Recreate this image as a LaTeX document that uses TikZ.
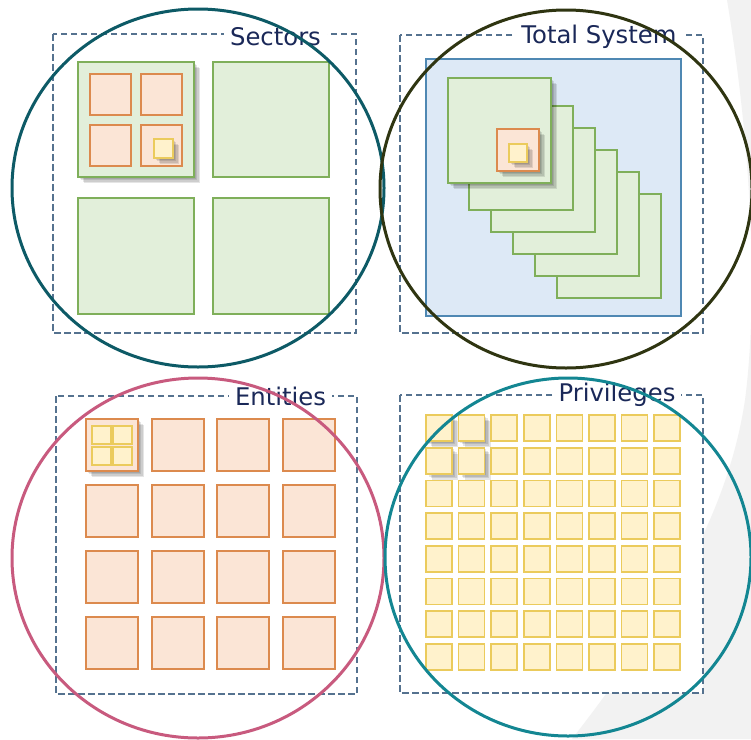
\documentclass[tikz,border=0pt]{standalone}
\usepackage{fontspec}
\setmainfont{DejaVu Sans}
\definecolor{grnF}{HTML}{E2EFDA}
\definecolor{grnD}{HTML}{7FAF5A}
\definecolor{orF}{HTML}{FBE5D6}
\definecolor{orD}{HTML}{DC8A4E}
\definecolor{yeF}{HTML}{FFF2CC}
\definecolor{yeD}{HTML}{EBCB5C}
\definecolor{blF}{HTML}{DDE9F6}
\definecolor{blD}{HTML}{4F88B3}
\definecolor{dashC}{HTML}{55728F}
\definecolor{txtC}{HTML}{1A2858}
\definecolor{cSec}{HTML}{0D5A66}
\definecolor{cTot}{HTML}{2F3511}
\definecolor{cEnt}{HTML}{C85A7E}
\definecolor{cPriv}{HTML}{138692}
\definecolor{bgG}{HTML}{F2F2F2}
\newcommand\boxshadow[4]{%
  \foreach \o in {1.5,3,4.5,6}{\fill[shadowfill] ({#1+\o},{#2+\o}) rectangle ({#3+\o},{#4+\o});}}
\begin{document}
\begin{tikzpicture}[x=1pt,y=-1pt,
  grnbox/.style={fill=grnF, draw=grnD, line width=2pt},
  orbox/.style={fill=orF, draw=orD, line width=2pt},
  yebox/.style={fill=yeF, draw=yeD, line width=1.6pt},
  bluebox/.style={fill=blF, draw=blD, line width=1.6pt},
  panel/.style={fill=white, draw=dashC, line width=1.9pt, dash pattern=on 6.5pt off 3.5pt},
  title/.style={fill=white, text=txtC, font=\fontsize{24.3}{26}\selectfont, inner xsep=6pt, inner ysep=1pt, anchor=base},
  ring/.style={line width=3pt},
  shadowfill/.style={fill=black, opacity=0.1}]
\useasboundingbox (0,0) rectangle (751,739);
\fill[white] (0,0) rectangle (751,739);
\fill[bgG] (727,0) .. controls (752,150) and (758,300) .. (745,400) .. controls (730,500) and (680,600) .. (572,739) -- (751,739) -- (751,0) -- cycle;

% ---------- Sectors ----------
\draw[panel] (53,34) rectangle (356,333);
\boxshadow{78}{62}{194}{177}
\draw[grnbox] (78,62) rectangle (194,177);
\draw[grnbox] (213,62) rectangle (329,177);
\draw[grnbox] (78,198) rectangle (194,314);
\draw[grnbox] (213,198) rectangle (329,314);
\draw[orbox] (90,74) rectangle (131,115);
\draw[orbox] (141,74) rectangle (182,115);
\draw[orbox] (90,125) rectangle (131,166);
\draw[orbox] (141,125) rectangle (182,166);
\boxshadow{154}{139}{173}{158}
\draw[yebox] (154,139) rectangle (173,158);
\node[title] (sectorsT) at (275.5,45) {Sectors};

% ---------- Total System ----------
\draw[panel] (400,35) rectangle (703,333);
\draw[bluebox] (426,59) rectangle (681,316);
\foreach \k in {4,3,2,1,0}{
  \draw[grnbox] ({469+22*\k},{106+22*\k}) rectangle ({573+22*\k},{210+22*\k});
}
\boxshadow{448}{78}{551}{183}
\draw[grnbox] (448,78) rectangle (551,183);
\boxshadow{497}{129}{539}{171}
\draw[orbox] (497,129) rectangle (539,171);
\boxshadow{509}{144}{527}{162}
\draw[yebox] (509,144) rectangle (527,162);
\node[title] (totalT) at (599,43) {Total System};

% ---------- Entities ----------
\draw[panel] (56,396) rectangle (357,694);
\boxshadow{86}{419}{138}{471}
\foreach \i in {0,1,2,3}{
  \foreach \j in {0,1,2,3}{
    \draw[orbox] ({86+65.7*\i},{419+66*\j}) rectangle ({138+65.7*\i},{471+66*\j});
  }
}
\draw[yebox] (92,426) rectangle (111,444);
\draw[yebox] (113,426) rectangle (132,444);
\draw[yebox] (92,447) rectangle (111,465);
\draw[yebox] (113,447) rectangle (132,465);
\node[title] (entitiesT) at (280.5,405) {Entities};

% ---------- Privileges ----------
\draw[panel] (400,395) rectangle (703,693);
\foreach \i in {0,1}{
  \foreach \j in {0,1}{
    \boxshadow{426+32.6*\i}{415+32.7*\j}{452+32.6*\i}{441+32.7*\j}
  }
}
\foreach \i in {0,...,7}{
  \foreach \j in {0,...,7}{
    \draw[yebox] ({426+32.6*\i},{415+32.7*\j}) rectangle ({452+32.6*\i},{441+32.7*\j});
  }
}
\node[title] (privT) at (617,401) {Privileges};

% ---------- rings ----------
\draw[ring, cSec] (198,188) ellipse [x radius=186, y radius=179];
\draw[ring, cTot] (566,189) ellipse [x radius=186, y radius=179];
\draw[ring, cEnt] (198,558) ellipse [x radius=186, y radius=180];
\draw[ring, cPriv] (568,557) ellipse [x radius=183, y radius=179];
\end{tikzpicture}
\end{document}
